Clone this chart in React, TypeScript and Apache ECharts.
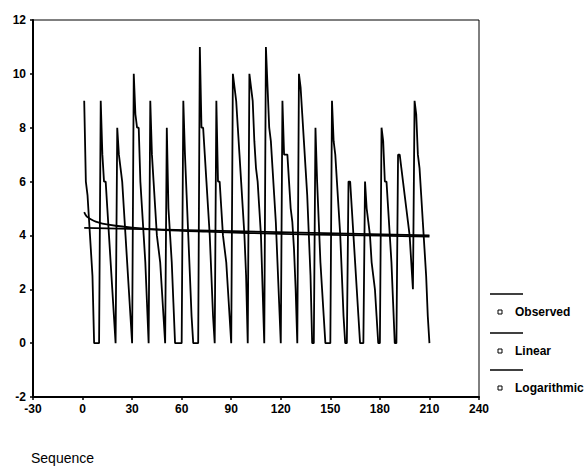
import React, { useEffect, useRef } from "react";
import * as echarts from "echarts";

// Observed values, sequence 1..210 (10 per row)
const observed: number[] = [
  9, 6, 5.5, 4.5, 3.5, 2.5, 0, 0, 0, 0,
  9, 7, 6, 6, 5, 4, 3, 2, 1, 0,
  8, 7, 6.5, 6, 5, 4, 3, 2, 1, 0,
  10, 8.5, 8, 8, 6, 5, 4, 3, 1.5, 0,
  9, 7, 6, 5, 4, 3.5, 3, 2, 1, 0,
  8, 5, 4, 3, 1.5, 0, 0, 0, 0, 0,
  9, 7, 5.5, 4, 2.5, 1, 0, 0, 0, 0,
  11, 8, 8, 7, 6, 5, 4, 2.5, 1, 0,
  9, 6, 6, 5, 4, 3.5, 3, 2, 1, 0,
  10, 9.5, 9, 8, 7, 6, 5, 4, 2.5, 0,
  10, 9.5, 9, 7.5, 6.5, 6, 5, 4, 2, 0,
  11, 9.5, 8, 7.5, 6.5, 5.5, 4.5, 3, 1.5, 0,
  9, 7, 7, 7, 6, 5, 4.5, 3.5, 2, 0,
  10, 9.5, 8.5, 7.5, 6.5, 5.5, 4, 2.5, 0, 0,
  8, 6, 4.5, 3, 2, 1, 0, 0, 0, 0,
  9, 7.5, 7, 6, 5, 4, 2.5, 1, 0, 0,
  6, 6, 5, 4, 3, 2, 1, 0, 0, 0,
  6, 5, 4.5, 4, 3, 2.5, 2, 1, 0, 0,
  8, 7.5, 6, 6, 5, 4, 3, 1.5, 0, 0,
  7, 7, 6.5, 6, 5.5, 5, 4.5, 4, 3, 2,
  9, 8.5, 7, 6.5, 5.5, 4.5, 3.5, 2.5, 1, 0,
];

// Linear fit
const linearSeq: number[] = [1, 210];
const linearVal: number[] = [4.28, 4.0];

// Logarithmic fit
const logSeq: number[] = [1, 2, 3, 5, 8, 12, 20, 30, 50, 75, 100, 140, 180, 210];
const logVal: number[] = [4.87, 4.75, 4.68, 4.6, 4.51, 4.44, 4.36, 4.29, 4.2, 4.14, 4.09, 4.03, 3.99, 3.96];

const legendNames: string[] = ["Observed", "Linear", "Logarithmic"];
const axisFont = "Liberation Sans, Arial, sans-serif";

export default function App() {
  const ref = useRef<HTMLDivElement>(null);

  useEffect(() => {
    if (!ref.current) return;
    const chart = echarts.init(ref.current, undefined, { renderer: "svg" });

    const legendGraphics: any[] = [];
    const legendTop = [294, 333, 370];
    legendNames.forEach((name, i) => {
      const y = legendTop[i];
      legendGraphics.push({
        type: "line",
        shape: { x1: 490, y1: y, x2: 523, y2: y },
        style: { stroke: "#000", lineWidth: 1.5 },
      });
      legendGraphics.push({
        type: "rect",
        shape: { x: 498, y: y + 16, width: 4, height: 4 },
        style: { fill: "#fff", stroke: "#000", lineWidth: 1 },
      });
      legendGraphics.push({
        type: "text",
        x: 515,
        y: y + 18,
        style: {
          text: name,
          fill: "#000",
          font: `bold 12px ${axisFont}`,
          textVerticalAlign: "middle",
        },
      });
    });

    chart.setOption({
      animation: false,
      backgroundColor: "#fff",
      grid: {
        left: 33,
        top: 20,
        width: 446,
        height: 377,
        show: true,
        borderColor: "#000",
        borderWidth: 1,
        containLabel: false,
      },
      xAxis: {
        type: "value",
        min: -30,
        max: 240,
        interval: 30,
        axisLine: { show: true, onZero: false, lineStyle: { color: "#000", width: 2 } },
        axisTick: { show: true, length: 3, lineStyle: { color: "#000", width: 1.5 } },
        axisLabel: { color: "#000", fontSize: 12, fontWeight: "bold", fontFamily: axisFont, margin: 6 },
        splitLine: { show: false },
      },
      yAxis: {
        type: "value",
        min: -2,
        max: 12,
        interval: 2,
        axisLine: { show: true, onZero: false, lineStyle: { color: "#000", width: 2 } },
        axisTick: { show: true, length: 3, lineStyle: { color: "#000", width: 1.5 } },
        axisLabel: { color: "#000", fontSize: 12, fontWeight: "bold", fontFamily: axisFont, margin: 7 },
        splitLine: { show: false },
      },
      series: [
        {
          name: "Observed",
          type: "line",
          data: observed.map((v, i) => [i + 1, v]),
          showSymbol: false,
          lineStyle: { color: "#000", width: 1.8 },
        },
        {
          name: "Linear",
          type: "line",
          data: linearSeq.map((s, i) => [s, linearVal[i]]),
          showSymbol: false,
          lineStyle: { color: "#000", width: 1.8 },
        },
        {
          name: "Logarithmic",
          type: "line",
          data: logSeq.map((s, i) => [s, logVal[i]]),
          showSymbol: false,
          smooth: 0.3,
          lineStyle: { color: "#000", width: 1.8 },
        },
      ],
      graphic: [
        ...legendGraphics,
        {
          type: "text",
          x: 31,
          y: 451,
          style: { text: "Sequence", fill: "#000", font: `14px ${axisFont}` },
        },
      ],
    });

    return () => chart.dispose();
  }, []);

  return <div ref={ref} style={{ width: 585, height: 470, position: "absolute", left: 0, top: 0 }} />;
}
